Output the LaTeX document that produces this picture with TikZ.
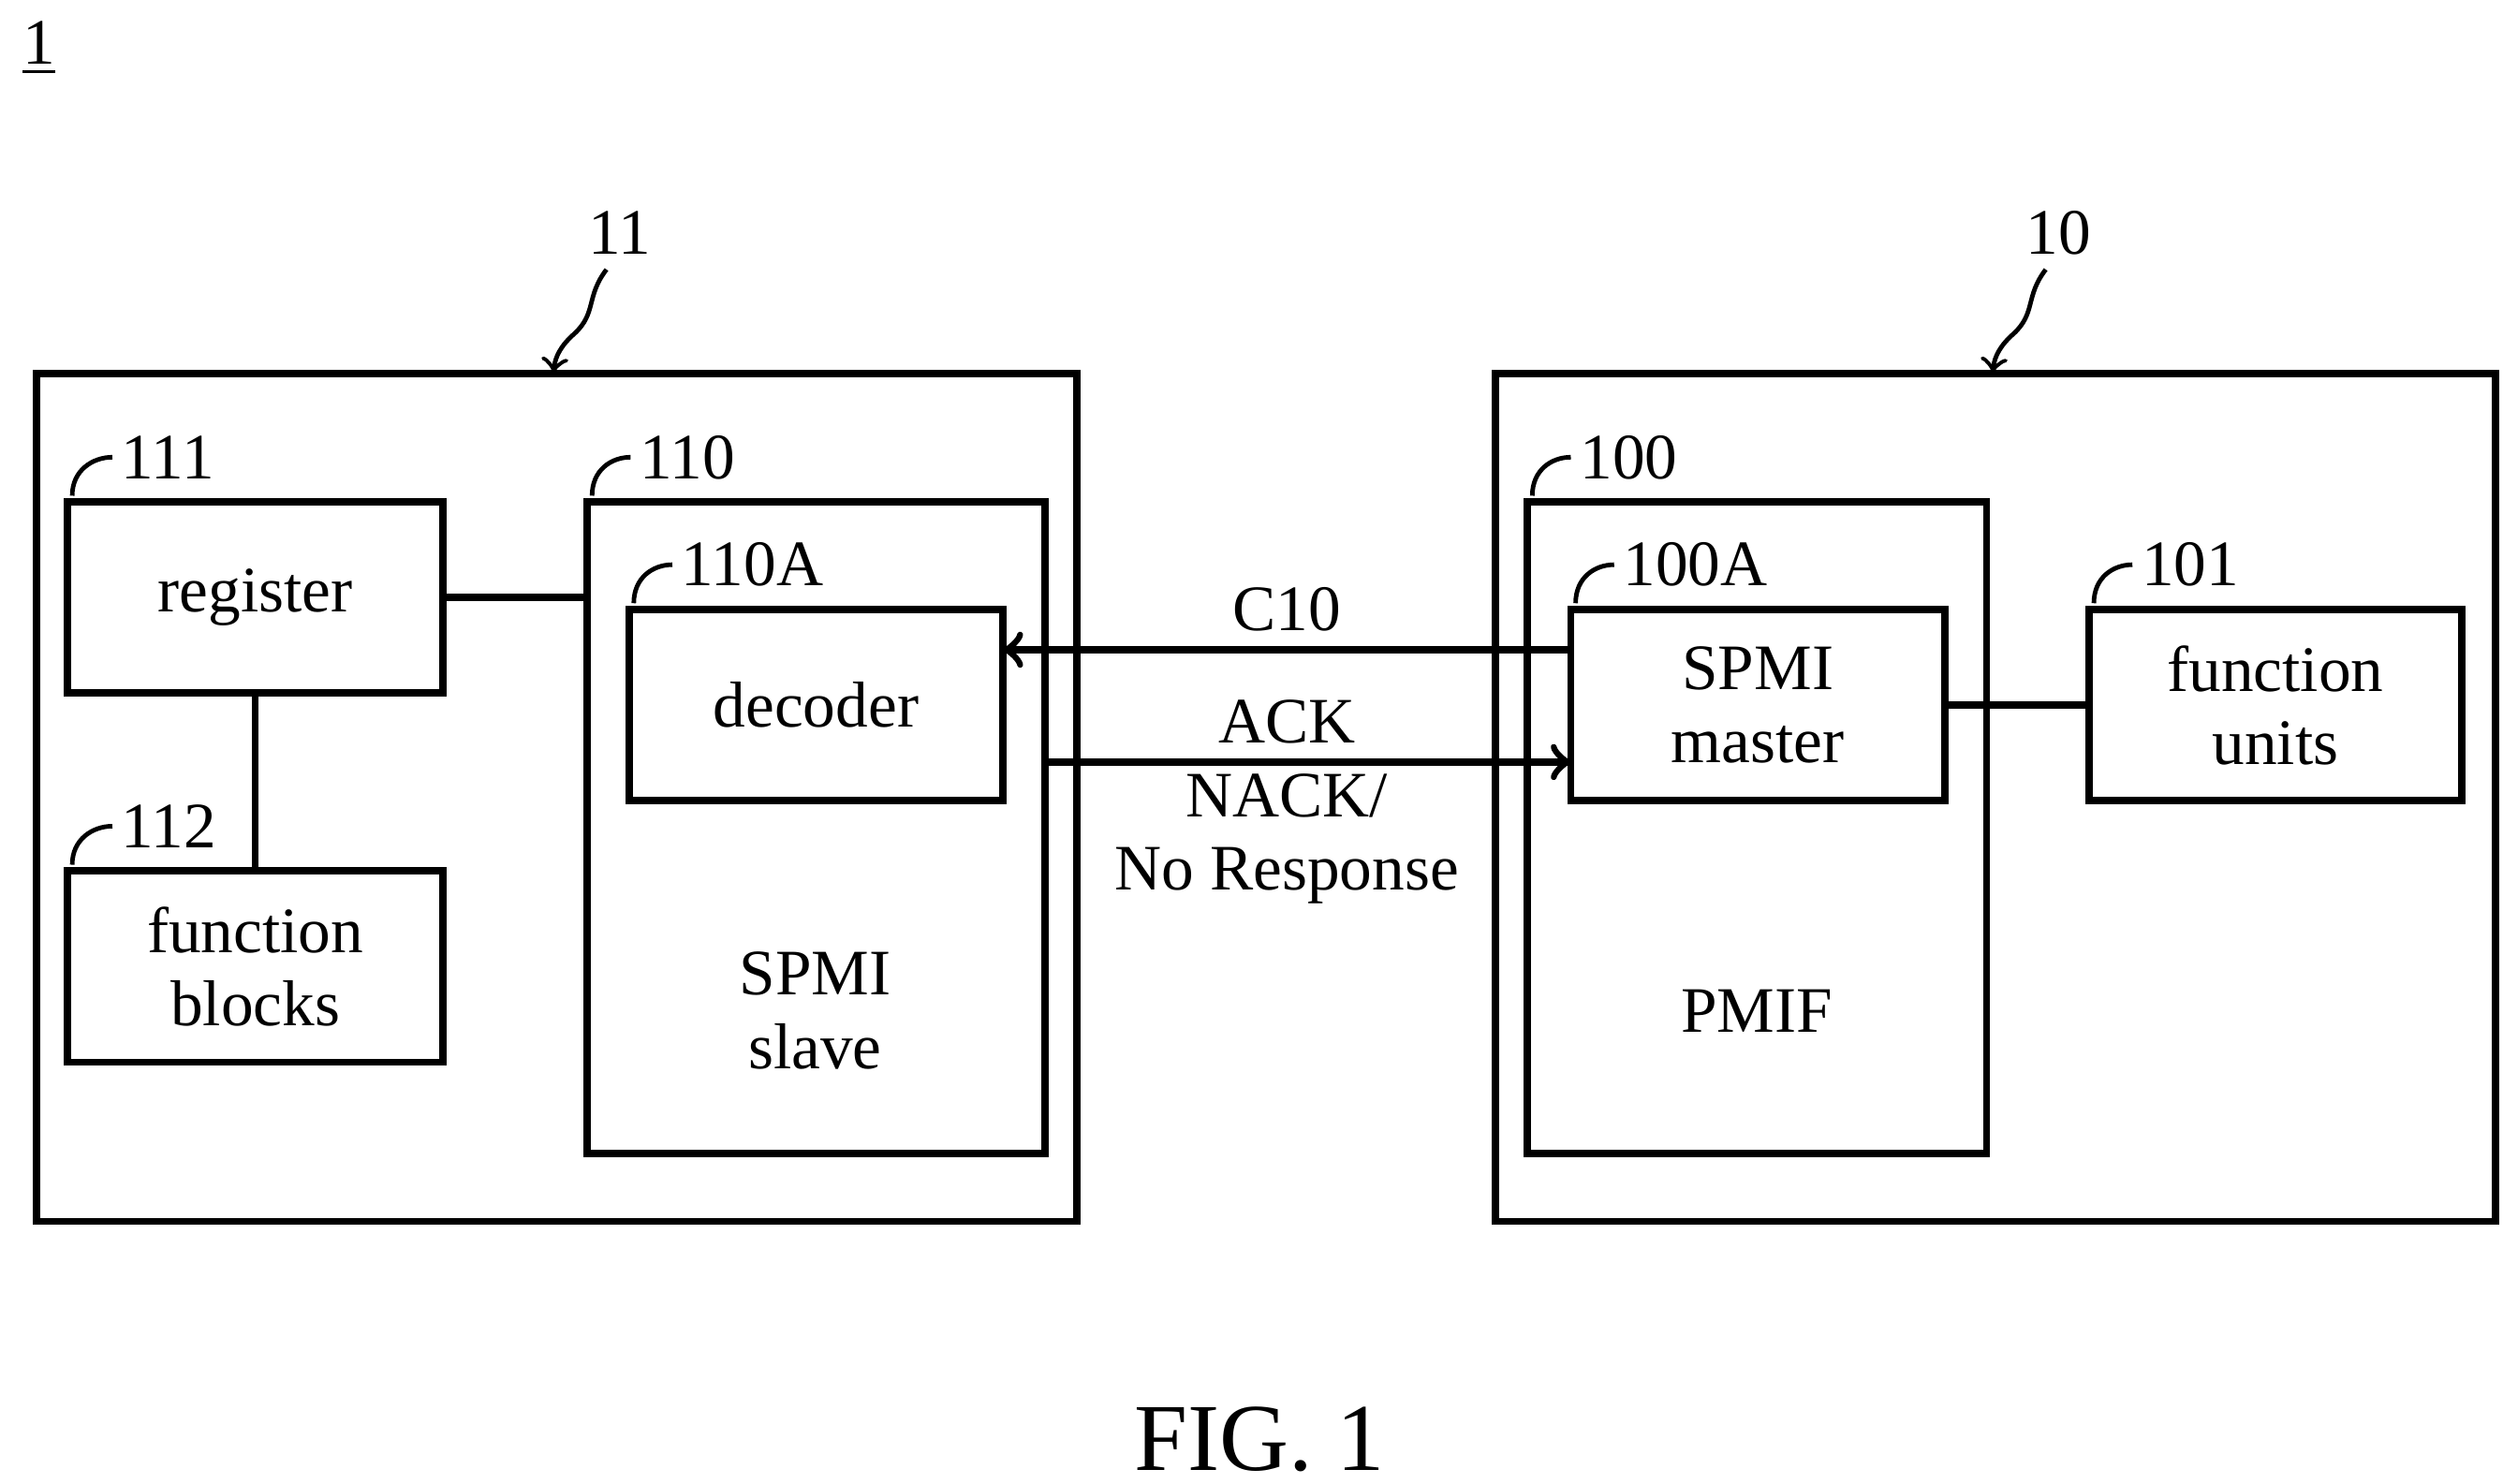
\documentclass[tikz,border=0pt]{standalone}
\usepackage{fontspec}
\setmainfont{Liberation Serif}
\usetikzlibrary{positioning}
\usetikzlibrary{calc}

\begin{document}
\begin{tikzpicture}[x=0.01cm,y=-0.01cm,line width=1.3pt,font=\fontsize{11.5}{13}\selectfont]
\tikzset{
blk/.style = {rectangle,draw,anchor=north west,inner sep=0pt,
              align=center,outer sep=0pt},
txt/.style = {align=center},
refno/.style = {inner sep=1pt,anchor=west},
lead/.style = {line width=0.8pt}
}
\useasboundingbox (0,0) rectangle (1560,925);

\node[anchor=west,inner sep=0pt] (fig) at (12,30) {\underline{1}};

% outer boxes
\node[blk,minimum width=6.48cm,minimum height=5.28cm] (dev11) at (23,233) {};
\node[blk,minimum width=6.23cm,minimum height=5.28cm] (dev10) at (932,233) {};

% blocks in 11
\node[blk,minimum width=2.34cm,minimum height=1.19cm] (reg) at (42,313) {};
\node[txt] at (reg.center) {register};
\node[blk,minimum width=2.34cm,minimum height=1.19cm] (fblk) at (42,543) {};
\node[txt] at (fblk.center) {function\\blocks};
\node[blk,minimum width=2.85cm,minimum height=4.06cm] (slave) at (366,313) {};
\node[txt] at (508,630) {SPMI\\slave};
\node[blk,minimum width=2.33cm,minimum height=1.19cm] (dec) at (392,380) {};
\node[txt] at (dec.center) {decoder};

% blocks in 10
\node[blk,minimum width=2.86cm,minimum height=4.06cm] (pmif) at (952,313) {};
\node[txt] at (1095,630) {PMIF};
\node[blk,minimum width=2.33cm,minimum height=1.19cm] (mst) at (979,380) {};
\node[txt] at (mst.center) {SPMI\\master};
\node[blk,minimum width=2.32cm,minimum height=1.19cm] (fun) at (1302,380) {};
\node[txt] at (fun.center) {function\\units};

% connectors
\draw (reg.east) -- (slave.west |- reg.east);
\draw (reg.south) -- (fblk.north);
\draw[->] (mst.west |- 0,405) -- (dec.east |- 0,405);
\draw[->] (slave.east |- 0,475) -- (mst.west |- 0,475);
\draw (mst.east) -- (fun.west);
\node (c10) at (802,380) {C10};
\node[txt] (ack) at (802,500) {ACK\\NACK/\\No Response};

% reference numerals
\foreach \b/\t/\x/\y in {reg/111/70/285, fblk/112/70/515, slave/110/393/285,
                         dec/110A/419/352, pmif/100/979/285, mst/100A/1006/352,
                         fun/101/1329/352}{
  \node[refno] (n\t) at (\x,\y) {\t};
  \draw[lead] ($(\b.north west)+(3,-4)$) .. controls ($(\b.north west)+(3,-20)$) and ($(n\t.west)+(-12,0)$) .. (n\t.west);
}
\node (n11) at (386,145) {11};
\draw[lead,->] (378,168) .. controls (365,185) and (372,195) .. (358,208) .. controls (350,215) and (346,222) .. (345,232);
\node (n10) at (1283,145) {10};
\draw[lead,->] (1275,168) .. controls (1262,185) and (1269,195) .. (1255,208) .. controls (1247,215) and (1243,222) .. (1242,232);

\node[font=\fontsize{17}{20}\selectfont] (cap) at (785,897) {FIG. 1};
\end{tikzpicture}
\end{document}
